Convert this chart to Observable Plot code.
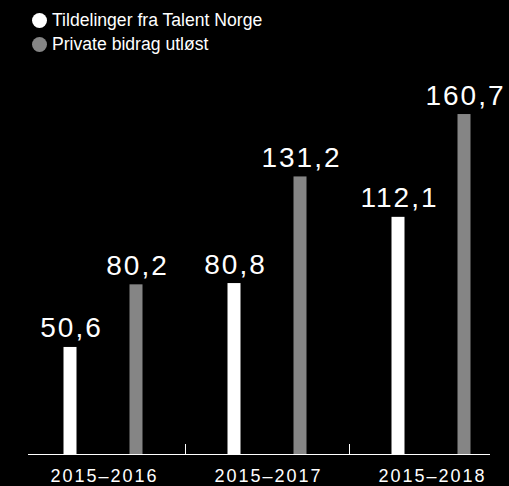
<!DOCTYPE html>
<html>
<head>
<meta charset="utf-8">
<script src="https://cdn.jsdelivr.net/npm/d3@7"></script>
<script src="https://cdn.jsdelivr.net/npm/@observablehq/plot@0.6"></script>
<style>
  html, body { margin: 0; padding: 0; background: #000; }
  #wrap { position: relative; width: 509px; height: 486px; background: #000; overflow: hidden; }
  #legend { position: absolute; left: 32px; top: 8px; font-family: "Liberation Sans", Arial, sans-serif; font-size: 17.6px; color: #fff; }
  .row { display: flex; align-items: center; height: 24.5px; }
  .sw { width: 15px; height: 15px; border-radius: 50%; margin-right: 5px; flex: none; }
</style>
</head>
<body>
<div id="wrap"><div id="legend"></div></div>
<script>
const periods = ["2015–2016", "2015–2017", "2015–2018"];
const tildelinger = [50.6, 80.8, 112.1];
const privat = [80.2, 131.2, 160.7];
const seriesNames = ["Tildelinger fra Talent Norge", "Private bidrag utløst"];
const seriesColors = ["#ffffff", "#858585"];

const fmt = v => v.toFixed(1).replace(".", ",");
const dataW = periods.map((p, i) => ({period: p, value: tildelinger[i]}));
const dataG = periods.map((p, i) => ({period: p, value: privat[i]}));

const legend = document.getElementById("legend");
seriesNames.forEach((name, i) => {
  const row = document.createElement("div");
  row.className = "row";
  const sw = document.createElement("span");
  sw.className = "sw";
  sw.style.background = seriesColors[i];
  const t = document.createElement("span");
  t.textContent = name;
  row.appendChild(sw); row.appendChild(t);
  legend.appendChild(row);
});

const chart = Plot.plot({
  width: 509,
  height: 486,
  marginTop: 0,
  marginBottom: 32,
  marginLeft: 28,
  marginRight: 19,
  style: {background: "#000", color: "#fff", fontFamily: "'Liberation Sans', Arial, sans-serif", letterSpacing: "2px"},
  x: {domain: periods, range: [21, 513], padding: 0, label: null},
  y: {domain: [0, 214.6], axis: null},
  marks: [
    Plot.barY(dataW, {x: "period", y: "value", fill: seriesColors[0], dx: -33, insetLeft: 75.5, insetRight: 75.5}),
    Plot.barY(dataG, {x: "period", y: "value", fill: seriesColors[1], dx: 33, insetLeft: 75.5, insetRight: 75.5}),
    Plot.ruleY([0], {stroke: "#fff", strokeWidth: 1}),
    Plot.ruleX(periods.slice(1), {x: d => d, dx: -82, insetTop: 444, stroke: "#fff", strokeWidth: 1}),
    Plot.text(dataW, {x: "period", y: "value", text: d => fmt(d.value), dx: -32, dy: -10, lineAnchor: "bottom", fill: "#fff", fontSize: 28}),
    Plot.text(dataG, {x: "period", y: "value", text: d => fmt(d.value), dx: 34, dy: -10, lineAnchor: "bottom", fill: "#fff", fontSize: 28}),
    Plot.axisX({tickSize: 0, tickPadding: 15, fontSize: 18, label: null, dx: 1})
  ]
});
document.getElementById("wrap").appendChild(chart);
chart.style.position = "absolute";
chart.style.left = "0";
chart.style.top = "0";
document.getElementById("wrap").appendChild(legend);
</script>
</body>
</html>
